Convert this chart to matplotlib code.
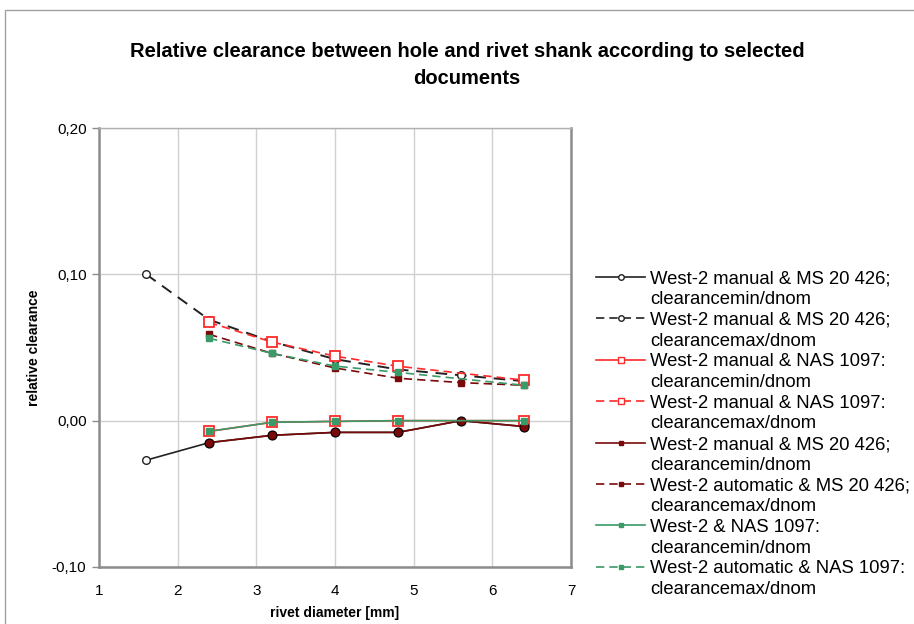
import matplotlib
matplotlib.use("Agg")
import matplotlib.pyplot as plt
from matplotlib.lines import Line2D
from matplotlib.patches import Rectangle
from matplotlib.ticker import FuncFormatter

plt.rcParams['font.family'] = ['Liberation Sans', 'DejaVu Sans']

# ===== data =====
d_ms = [1.6, 2.4, 3.2, 4.0, 4.8, 5.6, 6.4]
d_nas = [2.4, 3.2, 4.0, 4.8, 6.4]

ms_manual_min = [-0.027, -0.015, -0.010, -0.008, -0.008, 0.000, -0.004]
ms_manual_max = [0.100, 0.069, 0.054, 0.042, 0.035, 0.031, 0.027]

nas_manual_min = [-0.0073, -0.0011, -0.0005, 0.000, 0.000]
nas_manual_max = [0.0671, 0.0537, 0.0441, 0.0372, 0.0277]

ms_red_min = [-0.015, -0.010, -0.008, -0.008, 0.000, -0.004]
ms_auto_max = [0.059, 0.046, 0.036, 0.029, 0.026, 0.0242]

nas_min = [-0.0073, -0.0011, -0.0005, 0.000, 0.000]
nas_auto_max = [0.0563, 0.046, 0.0373, 0.033, 0.0242]

labels = [
    'West-2 manual & MS 20 426;\nclearancemin/dnom',
    'West-2 manual & MS 20 426;\nclearancemax/dnom',
    'West-2 manual & NAS 1097:\nclearancemin/dnom',
    'West-2 manual & NAS 1097:\nclearancemax/dnom',
    'West-2 manual & MS 20 426;\nclearancemin/dnom',
    'West-2 automatic & MS 20 426;\nclearancemax/dnom',
    'West-2 & NAS 1097:\nclearancemin/dnom',
    'West-2 automatic & NAS 1097:\nclearancemax/dnom',
]

BLACK = '#222222'
RED = '#ff2a2a'
MAROON = '#7a0a0a'
GREEN = '#3a9a68'
dash = (0, (5, 3))

W, H = 914, 624
fig = plt.figure(figsize=(W / 100, H / 100), dpi=100)
fig.patches.append(Rectangle((5 / W, -0.1), 1.2, 1 - 10 / H + 0.1,
                             transform=fig.transFigure, fill=False,
                             edgecolor='#a0a0a0', linewidth=1.0))
ax = fig.add_axes([99 / W, 1 - 567 / H, 472 / W, 439 / H])

# black series (MS 20 426 manual)
ax.plot(d_ms, ms_manual_min, color=BLACK, lw=1.2, marker='o', ms=5.5,
        mfc='white', mec=BLACK, mew=1.0, zorder=3)
ax.plot(d_ms, ms_manual_max, color=BLACK, lw=1.4, ls=(0, (6, 4)), marker='o',
        ms=5.5, mfc='white', mec=BLACK, mew=1.0, zorder=3)

# red series (NAS 1097 manual)
ax.plot(d_nas, nas_manual_min, color=RED, lw=1.2, marker='s', ms=7,
        mfc='white', mec=RED, mew=1.3, zorder=4)
ax.plot(d_nas, nas_manual_max, color=RED, lw=1.2, ls=dash, marker='s', ms=7,
        mfc='white', mec=RED, mew=1.3, zorder=4)

# maroon series (MS 20 426)
ax.plot(d_ms[1:], ms_red_min, color=MAROON, lw=1.2, marker='o', ms=6.5,
        mfc=MAROON, mec='black', mew=0.8, zorder=5)
ax.plot(d_ms[1:], ms_auto_max, color=MAROON, lw=1.2, ls=dash, marker='s',
        ms=4, mfc=MAROON, mec=MAROON, zorder=5)

# green series (NAS 1097)
ax.plot(d_nas, nas_min, color=GREEN, lw=1.2, marker='s', ms=4.5,
        mfc=GREEN, mec=GREEN, zorder=6)
ax.plot(d_nas, nas_auto_max, color=GREEN, lw=1.2, ls=dash, marker='s', ms=4.5,
        mfc=GREEN, mec=GREEN, zorder=6)

ax.set_xlim(1, 7)
ax.set_ylim(-0.10, 0.20)
ax.set_xticks(range(1, 8))
ax.set_yticks([-0.10, 0.0, 0.10, 0.20])
ax.yaxis.set_major_formatter(FuncFormatter(lambda v, p: f'{v:.2f}'.replace('.', ',').replace('-0,00', '0,00')))
ax.grid(True, color='#d0d0d0', lw=1.0)
ax.set_axisbelow(True)
for s in ['left', 'bottom', 'right']:
    ax.spines[s].set_color('#8c8c8c')
    ax.spines[s].set_linewidth(1.8)
ax.spines['top'].set_color('#b0b0b0')
ax.spines['top'].set_linewidth(1.0)
ax.tick_params(axis='y', direction='out', length=5, width=1, color='#8c8c8c',
               labelsize=11, pad=4)
ax.tick_params(axis='x', length=0, labelsize=11, pad=12)
ax.set_xlabel('rivet diameter [mm]', fontsize=10, fontweight='bold', labelpad=6)
ax.set_ylabel('relative clearance', fontsize=10, fontweight='bold', labelpad=8)

fig.text(467 / W, 1 - 65 / H,
         'Relative clearance between hole and rivet shank according to selected\ndocuments',
         ha='center', va='center', fontsize=14.5, fontweight='bold', linespacing=1.55)

# legend, drawn entry by entry
styles = [
    dict(color=BLACK, ls='-', marker='o', ms=4, mfc='white', mec=BLACK),
    dict(color=BLACK, ls=dash, marker='o', ms=4, mfc='white', mec=BLACK),
    dict(color=RED, ls='-', marker='s', ms=5, mfc='white', mec=RED),
    dict(color=RED, ls=dash, marker='s', ms=5, mfc='white', mec=RED),
    dict(color=MAROON, ls='-', marker='s', ms=3.5, mfc=MAROON, mec=MAROON),
    dict(color=MAROON, ls=dash, marker='s', ms=3.5, mfc=MAROON, mec=MAROON),
    dict(color=GREEN, ls='-', marker='s', ms=3.5, mfc=GREEN, mec=GREEN),
    dict(color=GREEN, ls=dash, marker='s', ms=3.5, mfc=GREEN, mec=GREEN),
]
y0, step, line_h = 277, 41.4, 20.7
for i, (lab, st) in enumerate(zip(labels, styles)):
    yc = 1 - (y0 + i * step) / H
    fig.add_artist(Line2D([596 / W, 645 / W], [yc, yc], transform=fig.transFigure,
                          lw=1.2, color=st['color'], ls=st['ls']))
    fig.add_artist(Line2D([620.5 / W], [yc], transform=fig.transFigure, ls='none',
                          marker=st['marker'], ms=st['ms'], mfc=st['mfc'], mec=st['mec']))
    for j, part in enumerate(lab.split('\n')):
        fig.text(650 / W, 1 - (y0 + i * step + j * line_h) / H, part,
                 ha='left', va='center_baseline', fontsize=13.3)

fig.savefig('out.png', dpi=100, facecolor='white')
